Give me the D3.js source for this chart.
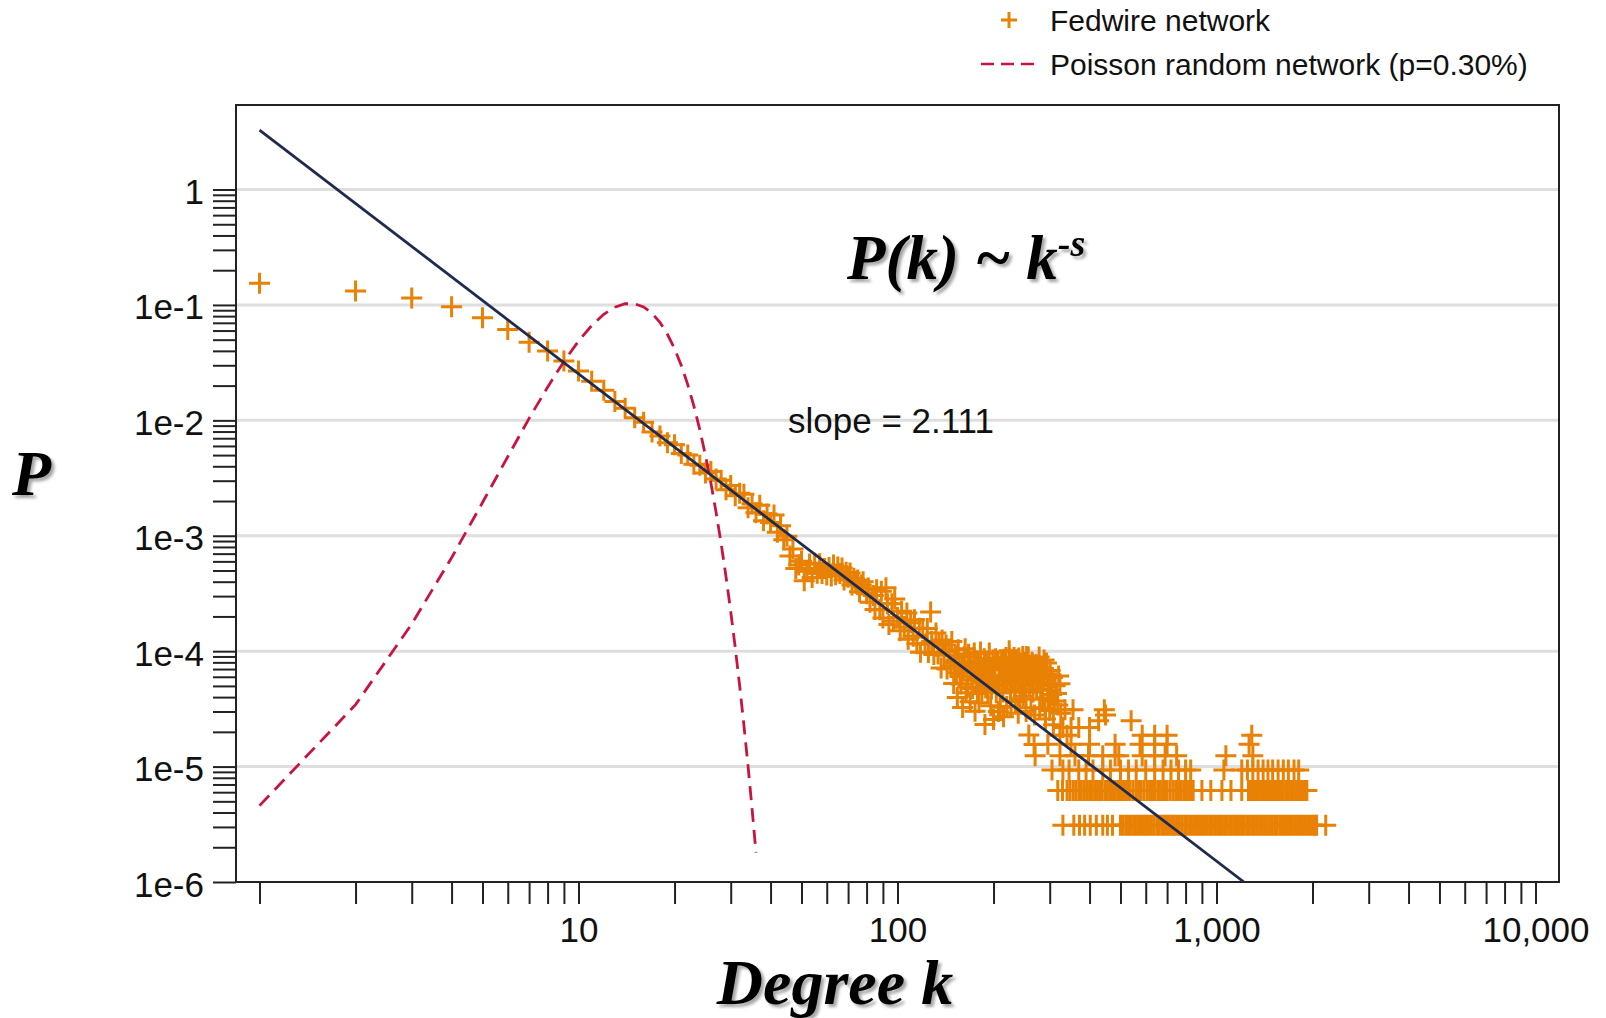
<!DOCTYPE html>
<meta charset="utf-8">
<style>
    body { margin: 0; background: #fff; }
    svg { display: block; font-family: "Liberation Sans", Arial, sans-serif; }
    .grid line { stroke: #dedede; stroke-width: 3; }
    .axis text { font-size: 35px; fill: #111; }
    .axis line { stroke: #222; stroke-width: 2; }
    .serif { font-family: "Liberation Serif", "Times New Roman", serif; font-weight: bold; font-style: italic; fill: #000; }
    .pt { fill: none; stroke: #e88104; stroke-width: 3; }
</style>
<script src="https://d3js.org/d3.v7.min.js"></script>
<body>
<script>
    // Fedwire degree distribution, low degrees
    var fedwireHeadK = [1, 2, 3, 4, 5, 6, 7, 8, 9, 10, 11, 12];
    var fedwireHeadP = [0.154, 0.132, 0.115, 0.0963, 0.0773, 0.0613, 0.0476, 0.0398, 0.0326, 0.0268, 0.0218, 0.0182];

    // middle degrees [k, P]
    var fedwireBody = [
        [13,0.01457],[14,0.01276],[15,0.01052],[16,0.00962],[17,0.00791],[18,0.00733],[19,0.00639],[20,0.00615],
        [21,0.00517],[22,0.00502],[23,0.00417],[24,0.00409],[25,0.00350],[26,0.00361],[27,0.00311],[28,0.00302],
        [29,0.00250],[30,0.00273],[31,0.00222],[32,0.00233],[33,0.00229],[34,0.00175],[35,0.00188],[36,0.00158],
        [37,0.00184],[38,0.00135],[39,0.00154],[40,0.00130],[41,0.00151],[42,0.00107],[43,0.00122],[44,9.24e-4],
        [45,9.89e-4],[46,6.68e-4],[47,7.67e-4],[48,5.20e-4],[49,5.58e-4],[50,6.00e-4],[51,4.07e-4],[52,4.92e-4],
        [53,5.69e-4],[54,4.35e-4],[55,5.77e-4],[56,4.73e-4],[57,5.73e-4],[58,4.70e-4],[59,5.21e-4],[60,4.58e-4],
        [61,5.32e-4],[62,4.48e-4],[63,5.58e-4],[64,4.59e-4],[65,5.35e-4],[66,4.72e-4],[67,5.25e-4],[68,4.13e-4],
        [69,4.82e-4],[70,4.37e-4],[71,4.75e-4],[72,3.75e-4],[73,4.28e-4],[74,3.88e-4],[75,4.14e-4],[76,3.27e-4],
        [77,3.74e-4],[78,3.99e-4],[80,3.15e-4],[81,3.52e-4],[82,2.66e-4],[84,3.04e-4],[85,2.30e-4],[86,3.40e-4],
        [88,2.29e-4],[89,3.30e-4],[90,1.94e-4],[92,3.54e-4],[93,2.57e-4],[94,1.70e-4],[96,2.57e-4],[97,1.82e-4],
        [98,2.83e-4],[100,1.96e-4],[102,1.50e-4],[103,2.22e-4],[105,1.61e-4],[107,2.14e-4],[108,1.27e-4],[110,1.76e-4],
        [112,1.35e-4],[113,1.87e-4],[115,1.16e-4],[117,1.58e-4],[118,9.80e-5],[120,1.57e-4],[122,1.15e-4],[124,1.57e-4],
        [125,9.73e-5],[127,2.18e-4],[128,1.22e-4],[130,9.38e-5],[132,1.44e-4],[134,9.44e-5],[135,1.17e-4],[137,7.15e-5],
        [138,1.25e-4],[140,9.22e-5],[142,1.13e-4],[143,7.00e-5],[145,9.82e-5],[147,7.41e-5],[148,1.21e-4],[150,5.26e-5],
        [152,9.10e-5],[154,3.96e-5],[155,1.03e-4],[157,6.02e-5],[159,7.91e-5],[160,3.25e-5],[162,8.93e-5],[164,4.36e-5],
        [165,6.08e-5],[167,9.40e-5],[169,3.65e-5],[170,7.19e-5],[172,4.74e-5],[174,9.66e-5],[175,3.02e-5],[177,5.88e-5],
        [179,7.57e-5],[180,3.58e-5],[182,9.86e-5],[184,4.51e-5],[186,6.37e-5],[188,2.31e-5],[190,7.66e-5],[192,4.42e-5],
        [194,9.66e-5],[196,3.36e-5],[198,5.85e-5],[200,2.56e-5],[202,7.38e-5],[204,4.36e-5],[206,8.20e-5],[208,5.51e-5],
        [210,3.26e-5],[212,8.02e-5],[214,4.42e-5],[216,8.50e-5],[218,5.73e-5],[220,3.31e-5],[222,7.28e-5],[224,1.01e-4],
        [226,4.42e-5],[228,7.72e-5],[230,5.36e-5],[232,8.80e-5],[234,3.66e-5],[236,8.05e-5],[238,5.60e-5],[240,8.71e-5],
        [242,3.83e-5],[244,7.90e-5],[246,5.86e-5],[248,4.07e-5],[250,8.00e-5],[252,4.43e-5],[254,9.00e-5],[256,6.04e-5],
        [258,1.88e-5],[260,6.56e-5],[262,3.24e-5],[264,8.00e-5],[266,4.43e-5],[268,1.55e-5],[270,6.79e-5],[273,4.70e-5],
        [276,7.28e-5],[279,3.18e-5],[282,6.21e-5],[285,3.83e-5],[288,8.38e-5],[291,2.59e-5],[294,6.37e-5],[297,3.94e-5],
        [300,3.06e-5],[301,6.80e-5],[304,4.21e-5],[308,2.30e-5],[312,5.01e-5],[318,3.41e-5],[323,5.23e-5],[325,2.90e-5]
    ];

    // the dense bump between k=150 and k=320 [k, P]
    var fedwireBump = [
        [151,8.0e-5],[153,6.5e-5],[156,7.6e-5],[158,5.2e-5],[161,6.9e-5],[163,1.05e-4],[166,4.9e-5],[168,7.8e-5],
        [171,5.6e-5],[173,6.6e-5],[176,8.2e-5],[178,4.3e-5],[181,6.0e-5],[183,7.1e-5],[185,5.3e-5],[187,8.6e-5],
        [189,4.8e-5],[191,6.1e-5],[193,5.5e-5],[195,7.0e-5],[197,4.7e-5],[199,8.4e-5],[201,6.2e-5],[203,8.6e-5],
        [205,5.0e-5],[207,3.0e-5],[209,7.0e-5],[211,7.6e-5],[213,6.0e-5],[215,2.7e-5],[217,7.5e-5],[219,8.8e-5],
        [221,5.2e-5],[223,6.3e-5],[225,8.6e-5],[227,3.3e-5],[229,8.0e-5],[231,6.6e-5],[233,4.6e-5],[235,7.1e-5],
        [237,8.3e-5],[239,2.9e-5],[241,6.9e-5],[243,5.1e-5],[245,7.6e-5],[247,9.0e-5],[249,5.5e-5],[251,6.4e-5],
        [253,3.0e-5],[255,7.8e-5],[257,8.9e-5],[259,5.0e-5],[261,7.4e-5],[263,5.7e-5],[265,7.8e-5],[267,6.2e-5],
        [269,2.8e-5],[272,7.7e-5],[275,5.4e-5],[278,8.9e-5],[281,4.6e-5],[284,7.1e-5],[287,5.8e-5],[290,3.2e-5],
        [293,7.9e-5],[296,5.2e-5],[299,4.6e-5],[306,5.9e-5],[310,3.7e-5],[315,4.3e-5],[320,6.1e-5]
    ];

    // high degrees: few nodes per degree, so P sits on discrete levels
    var tailLevelP = [3.11e-6, 6.22e-6, 9.33e-6, 1.24e-5, 1.56e-5, 1.87e-5, 2.18e-5, 2.49e-5, 2.80e-5, 3.11e-5];
    var tailLevelK = [
        [330, 357, 372, 386, 402, 420, 440, 455, 472, 500, 510, 520, 530, 540, 550, 560, 570, 580, 590, 600, 612, 625,
         637, 650, 662, 675, 687, 700, 712, 725, 737, 750, 765, 780, 795, 810, 825, 840, 855, 870, 885, 900, 917, 935,
         952, 970, 987, 1005, 1022, 1040, 1060, 1080, 1100, 1120, 1140, 1160, 1180, 1200, 1222, 1245, 1267, 1290,
         1315, 1340, 1365, 1390, 1415, 1440, 1467, 1495, 1522, 1550, 1580, 1610, 1640, 1670, 1700, 1730, 1762, 1795,
         1827, 1860, 1895, 1930, 1965, 2000, 2030, 2060, 2200],
        [318, 329, 340, 347, 355, 362, 370, 377, 385, 392, 400, 407, 415, 422, 430, 438, 447, 455, 464, 472, 481, 490,
         500, 508, 517, 526, 536, 548, 560, 570, 580, 592, 605, 617, 630, 642, 655, 667, 680, 690, 700, 715, 730, 745,
         760, 775, 790, 805, 820, 832, 845, 900, 960, 1040, 1110, 1200, 1260, 1280, 1300, 1320, 1340, 1362, 1385,
         1407, 1430, 1452, 1475, 1497, 1520, 1545, 1570, 1595, 1620, 1650, 1680, 1710, 1740, 1770, 1800, 1830, 1860,
         1890, 1920],
        [305, 330, 345, 370, 390, 410, 440, 465, 500, 530, 560, 600, 640, 680, 720, 760, 800, 830, 1055, 1200, 1250,
         1300, 1350, 1400, 1450, 1500, 1560, 1620, 1680, 1750, 1810],
        [270, 323, 360, 397, 440, 481, 494, 585, 640, 690, 750, 1070, 1300],
        [296, 350, 400, 481, 576, 640, 700, 1265],
        [323, 340, 585, 640, 700, 1290],
        [330, 350, 370, 400],
        [427, 540],
        [449],
        [335, 355, 445]
    ];

    // Poisson random network, same mean degree
    var poissonK = [1, 2, 3, 4, 5, 6, 7, 8, 9, 10, 11, 12, 13, 14, 15, 16, 17, 18, 19, 20, 21, 22, 23, 24, 25, 26, 27,
                    28, 29, 30, 31, 32, 33, 34, 35, 36];
    var poissonP = [4.59e-6, 3.44e-5, 1.72e-4, 6.45e-4, 1.94e-3, 4.84e-3, 1.04e-2, 1.94e-2, 3.24e-2, 4.86e-2, 6.63e-2,
                    8.29e-2, 9.56e-2, 0.1024, 0.1024, 0.0960, 0.0847, 0.0706, 0.0557, 0.0418, 0.0299, 0.0204, 0.0133,
                    8.30e-3, 4.98e-3, 2.87e-3, 1.59e-3, 8.55e-4, 4.42e-4, 2.21e-4, 1.07e-4, 5.02e-5, 2.28e-5, 1.01e-5,
                    4.31e-6, 1.80e-6];

    // fitted power law, slope 2.111
    var fitK = [1, 1219];
    var fitP = [3.27, 1e-6];

    var xLabelValues = [10, 100, 1000, 10000];
    var xLabelText = ["10", "100", "1,000", "10,000"];
    var yLabelValues = [1e-6, 1e-5, 1e-4, 1e-3, 1e-2, 1e-1, 1];
    var yLabelText = ["1e-6", "1e-5", "1e-4", "1e-3", "1e-2", "1e-1", "1"];

    var legendLabels = ["Fedwire network", "Poisson random network (p=0.30%)"];

    var width = 1606;
    var height = 1018;
    var plotLeft = 236, plotRight = 1559, plotTop = 105, plotBottom = 882;

    var x = d3.scaleLog().domain([0.8438, 11850]).range([plotLeft, plotRight]);
    var y = d3.scaleLog().domain([1e-6, 5.4]).range([plotBottom, plotTop]);

    var svg = d3.select("body").append("svg")
        .attr("width", width)
        .attr("height", height);

    var defs = svg.append("defs");
    defs.append("clipPath").attr("id", "plot-clip")
        .append("rect")
        .attr("x", plotLeft).attr("y", plotTop)
        .attr("width", plotRight - plotLeft).attr("height", plotBottom - plotTop);
    defs.append("filter").attr("id", "shadow")
        .attr("x", "-10%").attr("y", "-10%").attr("width", "130%").attr("height", "140%")
        .append("feDropShadow")
        .attr("dx", 3).attr("dy", 3).attr("stdDeviation", 1.6)
        .attr("flood-color", "#000").attr("flood-opacity", 0.35);

    // grid
    svg.append("g").attr("class", "grid")
        .selectAll("line")
        .data(yLabelValues.filter(function(d) { return d > 1e-6; }))
        .join("line")
        .attr("x1", plotLeft).attr("x2", plotRight)
        .attr("y1", function(d) { return y(d); })
        .attr("y2", function(d) { return y(d); });

    // axes
    var xTicks = [];
    for (var e = 0; e <= 4; e++) {
        for (var m = 1; m <= 9; m++) {
            var v = m * Math.pow(10, e);
            if (v <= 10000) xTicks.push(v);
        }
    }
    var yTicks = [];
    for (var e2 = -6; e2 <= 0; e2++) {
        for (var m2 = 1; m2 <= 9; m2++) {
            if (e2 === 0 && m2 > 1) continue;
            yTicks.push(m2 * Math.pow(10, e2));
        }
    }

    function xFormat(d) {
        var i = xLabelValues.findIndex(function(v) { return Math.abs(v - d) / v < 1e-6; });
        return i < 0 ? "" : xLabelText[i];
    }
    function yFormat(d) {
        var i = yLabelValues.findIndex(function(v) { return Math.abs(v - d) / v < 1e-6; });
        return i < 0 ? "" : yLabelText[i];
    }

    svg.append("g").attr("class", "axis")
        .attr("transform", "translate(0," + plotBottom + ")")
        .call(d3.axisBottom(x).tickValues(xTicks).tickFormat(xFormat).tickSize(22).tickSizeOuter(0).tickPadding(13))
        .call(function(g) { g.select(".domain").remove(); })
        .selectAll("text").attr("font-family", null).attr("font-size", null);

    svg.append("g").attr("class", "axis")
        .attr("transform", "translate(" + plotLeft + ",0)")
        .call(d3.axisLeft(y).tickValues(yTicks).tickFormat(yFormat).tickSize(23).tickSizeOuter(0).tickPadding(9))
        .call(function(g) { g.select(".domain").remove(); })
        .selectAll("text").attr("font-family", null).attr("font-size", null).attr("dy", "0.4em");

    // frame
    svg.append("rect")
        .attr("x", plotLeft).attr("y", plotTop)
        .attr("width", plotRight - plotLeft).attr("height", plotBottom - plotTop)
        .attr("fill", "none").attr("stroke", "#222").attr("stroke-width", 2);

    var plot = svg.append("g").attr("clip-path", "url(#plot-clip)");

    function crossPath(s) {
        return "M" + (-s) + ",0H" + s + "M0," + (-s) + "V" + s;
    }

    var fedPoints = fedwireHeadK.map(function(k, i) { return [k, fedwireHeadP[i]]; })
        .concat(fedwireBody, fedwireBump);
    tailLevelK.forEach(function(ks, i) {
        ks.forEach(function(k) { fedPoints.push([k, tailLevelP[i]]); });
    });

    plot.append("g").selectAll("path")
        .data(fedPoints)
        .join("path")
        .attr("class", "pt")
        .attr("transform", function(d) { return "translate(" + x(d[0]) + "," + y(d[1]) + ")"; })
        .attr("d", crossPath(10.5));

    var logLine = d3.line()
        .x(function(d) { return x(d[0]); })
        .y(function(d) { return y(d[1]); });

    plot.append("path")
        .datum(poissonK.map(function(k, i) { return [k, poissonP[i]]; }))
        .attr("d", logLine)
        .attr("fill", "none")
        .attr("stroke", "#c8143e")
        .attr("stroke-width", 2.8)
        .attr("stroke-dasharray", "14,8");

    plot.append("path")
        .datum(fitK.map(function(k, i) { return [k, fitP[i]]; }))
        .attr("d", logLine)
        .attr("fill", "none")
        .attr("stroke", "#1f2b4e")
        .attr("stroke-width", 2.8);

    // annotations
    var formula = svg.append("text").attr("class", "serif")
        .attr("x", 847).attr("y", 279)
        .attr("font-size", 63)
        .attr("filter", "url(#shadow)");
    formula.append("tspan").text("P(k) ~ k");
    formula.append("tspan").attr("font-size", 38).attr("dy", -23).text("-s");

    svg.append("text")
        .attr("x", 788).attr("y", 433)
        .attr("font-size", 35).attr("fill", "#111")
        .text("slope = 2.111");

    svg.append("text").attr("class", "serif")
        .attr("x", 835).attr("y", 1004)
        .attr("text-anchor", "middle")
        .attr("font-size", 64)
        .attr("filter", "url(#shadow)")
        .text("Degree k");

    svg.append("text").attr("class", "serif")
        .attr("x", 12).attr("y", 495)
        .attr("font-size", 64)
        .attr("filter", "url(#shadow)")
        .text("P");

    // legend
    var legend = svg.append("g");
    legend.append("path")
        .attr("class", "pt")
        .attr("transform", "translate(1009,20)")
        .attr("d", crossPath(8))
        .attr("stroke-width", 2);
    legend.append("line")
        .attr("x1", 981).attr("x2", 1037)
        .attr("y1", 64).attr("y2", 64)
        .attr("stroke", "#c8143e").attr("stroke-width", 2.6)
        .attr("stroke-dasharray", "13,7");
    legend.selectAll("text")
        .data(legendLabels)
        .join("text")
        .attr("x", 1050)
        .attr("y", function(d, i) { return 31 + i * 44; })
        .attr("font-size", 30)
        .attr("fill", "#111")
        .text(function(d) { return d; });
</script>
